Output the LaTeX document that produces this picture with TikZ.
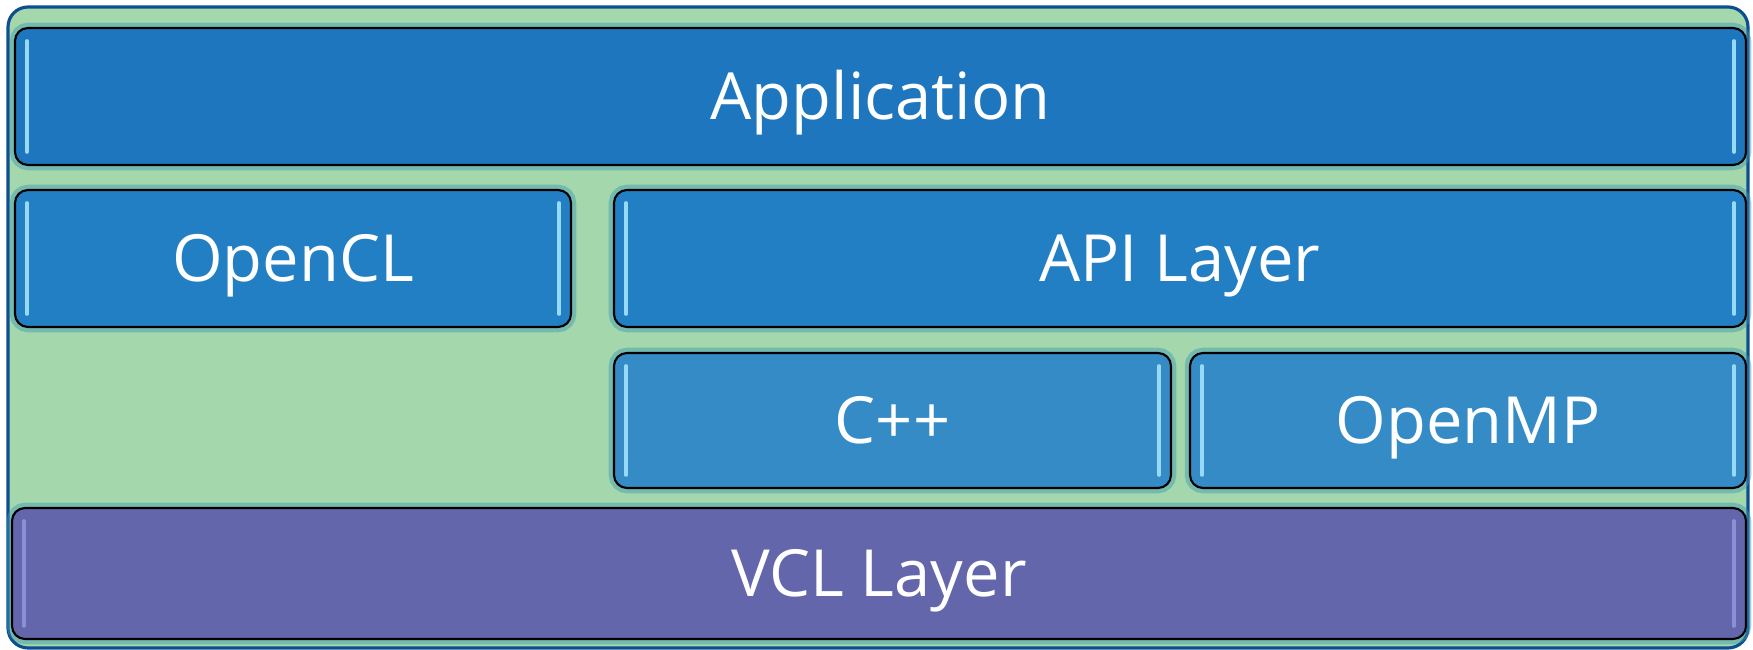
\documentclass[tikz,border=0pt]{standalone}
\usepackage{fontspec}
\setmainfont{Open Sans}
\usetikzlibrary{positioning, calc}
\definecolor{framegreen}{RGB}{164, 216, 172}
\definecolor{frameblue}{RGB}{13, 78, 143}
\definecolor{appblue}{RGB}{30, 119, 190}
\definecolor{apiblue}{RGB}{35, 127, 196}
\definecolor{langblue}{RGB}{52, 139, 198}
\definecolor{vclpurple}{RGB}{100, 102, 172}
\definecolor{glowteal}{RGB}{60, 150, 180}
\definecolor{stripecyan}{RGB}{150, 218, 248}
\definecolor{stripelilac}{RGB}{140, 142, 215}

\begin{document}
\begin{tikzpicture}[
    layer/.style={draw=black, line width=0.6pt, rounded corners=0.13cm, inner sep=0pt,
      text=white, font=\fontsize{18.5}{22}\selectfont, text height=13.2pt, text depth=0pt,
      preaction={draw=glowteal, draw opacity=0.45, line width=3pt}},
    stripe/.style={line width=1pt, line cap=round}
  ]
    \useasboundingbox (0,0) rectangle (17.53,6.50);
    % Frame
    \draw[frameblue, line width=0.9pt, fill=framegreen, rounded corners=0.2cm] (0.08,0.02) rectangle (17.48,6.43);
    % Layers
    \node[layer, fill=appblue, minimum width=17.31cm, minimum height=1.37cm] (app) at (8.805,5.535) {Application};
    \node[layer, fill=apiblue, minimum width=5.56cm, minimum height=1.37cm] (ocl) at (2.93,3.915) {OpenCL};
    \node[layer, fill=apiblue, minimum width=11.32cm, minimum height=1.37cm] (api) at (11.80,3.915) {API Layer};
    \node[layer, fill=langblue, minimum width=5.57cm, minimum height=1.35cm] (cpp) at (8.925,2.295) {C++};
    \node[layer, fill=langblue, minimum width=5.56cm, minimum height=1.35cm] (omp) at (14.68,2.295) {OpenMP};
    \node[layer, fill=vclpurple, minimum width=17.34cm, minimum height=1.31cm] (vcl) at (8.79,0.765) {VCL Layer};
    % Highlights
    \foreach \n/\c in {app/stripecyan, ocl/stripecyan, api/stripecyan, cpp/stripecyan, omp/stripecyan, vcl/stripelilac}{
      \draw[stripe, \c] ($(\n.north west)+(0.13,-0.14)$) -- ($(\n.south west)+(0.13,0.14)$);
      \draw[stripe, \c] ($(\n.north east)+(-0.13,-0.14)$) -- ($(\n.south east)+(-0.13,0.14)$);
    }
  \end{tikzpicture}
\end{document}
